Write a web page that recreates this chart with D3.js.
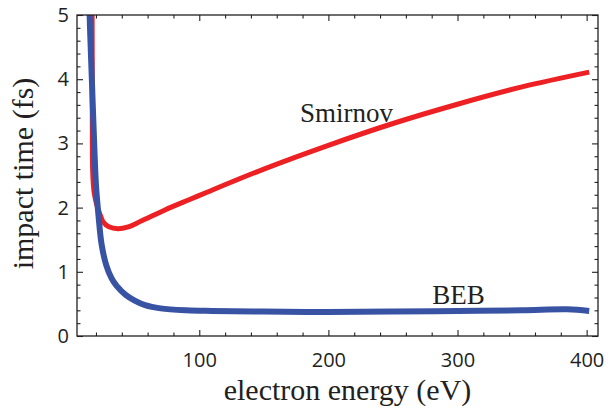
<!DOCTYPE html>
<html>
<head>
<meta charset="utf-8">
<script src="https://cdn.jsdelivr.net/npm/d3@7"></script>
<style>
  body { margin: 0; background: #fff; }
  .tick text { font-family: "Open Sans", sans-serif; font-size: 20px; fill: #231f20; }
  .tick line { stroke: #231f20; stroke-width: 1.1; }
</style>
</head>
<body>
<div id="plot"></div>
<script>
// data (energy in eV, impact time in fs)
var smirnovE = [16.9, 17.0, 17.1, 17.2, 17.4, 18.0, 18.7, 20.5, 23, 25.7, 30, 37, 45, 55, 73, 93, 106, 150, 200, 250, 300, 350, 402];
var smirnovT = [5.3, 5.0, 4.0, 3.0, 2.6, 2.35, 2.22, 2.05, 1.9, 1.77, 1.7, 1.67, 1.70, 1.79, 1.96, 2.13, 2.24, 2.60, 2.97, 3.31, 3.61, 3.88, 4.11];

var bebE = [15.0, 15.1, 16.8, 18.6, 20.0, 21.8, 24.4, 28, 32, 36, 43, 50, 58, 70, 90, 110, 150, 200, 250, 300, 350, 385, 402];
var bebT = [5.3, 5.0, 4.0, 3.0, 2.35, 1.91, 1.42, 1.1, 0.9, 0.78, 0.64, 0.55, 0.48, 0.43, 0.40, 0.39, 0.38, 0.375, 0.38, 0.39, 0.40, 0.415, 0.39];

var xMajor = [100, 200, 300, 400];
var xMinor = [20, 40, 60, 80, 120, 140, 160, 180, 220, 240, 260, 280, 320, 340, 360, 380];
var yMajor = [0, 1, 2, 3, 4, 5];
var yMinor = [0.2, 0.4, 0.6, 0.8, 1.2, 1.4, 1.6, 1.8, 2.2, 2.4, 2.6, 2.8, 3.2, 3.4, 3.6, 3.8, 4.2, 4.4, 4.6, 4.8];

var margin = {top: 15, right: 10, bottom: 77, left: 77},
    width = 608 - margin.left - margin.right,
    height = 413 - margin.top - margin.bottom;

var svg = d3.select("#plot")
  .append("svg")
    .attr("width", 608)
    .attr("height", 413)
  .append("g")
    .attr("transform", "translate(" + margin.left + "," + margin.top + ")");

var x = d3.scaleLinear().domain([5.3, 408.8]).range([0, width]);
var y = d3.scaleLinear().domain([0, 5]).range([height, 0]);

svg.append("clipPath").attr("id", "clip")
  .append("rect").attr("width", width).attr("height", height);

var line = d3.line()
  .x(function(d) { return x(d[0]); })
  .y(function(d) { return y(d[1]); })
  .curve(d3.curveCatmullRom.alpha(0.5));

var curves = svg.append("g").attr("clip-path", "url(#clip)");
curves.append("path")
  .datum(d3.zip(smirnovE, smirnovT))
  .attr("d", line)
  .attr("fill", "none")
  .attr("stroke", "#ed2024")
  .attr("stroke-width", 5);
curves.append("path")
  .datum(d3.zip(bebE, bebT))
  .attr("d", line)
  .attr("fill", "none")
  .attr("stroke", "#3953a4")
  .attr("stroke-width", 6);

// ticks point inward on all four sides
function ticks(axis, vals, size, labels) {
  return axis.tickValues(vals).tickSize(-size).tickFormat(labels ? d3.format("d") : "");
}

svg.append("g").attr("transform", "translate(0," + height + ")")
  .call(ticks(d3.axisBottom(x), xMajor, 6, true).tickPadding(17));
svg.append("g").attr("transform", "translate(0," + height + ")")
  .call(ticks(d3.axisBottom(x), xMinor, 3.5, false));
svg.append("g").call(ticks(d3.axisTop(x), xMajor, 6, false));
svg.append("g").call(ticks(d3.axisTop(x), xMinor, 3.5, false));

svg.append("g").call(ticks(d3.axisLeft(y), yMajor, 6, true).tickPadding(8));
svg.append("g").call(ticks(d3.axisLeft(y), yMinor, 3.5, false));
svg.append("g").attr("transform", "translate(" + width + ",0)")
  .call(ticks(d3.axisRight(y), yMajor, 6, false));
svg.append("g").attr("transform", "translate(" + width + ",0)")
  .call(ticks(d3.axisRight(y), yMinor, 3.5, false));

svg.selectAll(".domain").remove();

svg.append("rect")
  .attr("width", width).attr("height", height)
  .attr("fill", "none")
  .attr("stroke", "#231f20")
  .attr("stroke-width", 1.3);

// curve labels
svg.append("text")
  .attr("x", x(178)).attr("y", y(3.34))
  .style("font-family", "'Liberation Serif', serif")
  .style("font-size", "27px")
  .attr("fill", "#231f20")
  .text("Smirnov");
svg.append("text")
  .attr("x", x(280.5)).attr("y", y(0.5))
  .style("font-family", "'Liberation Serif', serif")
  .style("font-size", "27px")
  .attr("fill", "#231f20")
  .text("BEB");

// axis titles
svg.append("text")
  .attr("x", width / 2 + 10)
  .attr("y", height + 64)
  .attr("text-anchor", "middle")
  .style("font-family", "'Liberation Serif', serif")
  .style("font-size", "30px")
  .attr("fill", "#231f20")
  .text("electron energy (eV)");

svg.append("text")
  .attr("text-anchor", "middle")
  .attr("transform", "translate(-44," + (height / 2 - 2) + ") rotate(-90)")
  .style("font-family", "'Liberation Serif', serif")
  .style("font-size", "30px")
  .attr("fill", "#231f20")
  .text("impact time (fs)");
</script>
</body>
</html>
